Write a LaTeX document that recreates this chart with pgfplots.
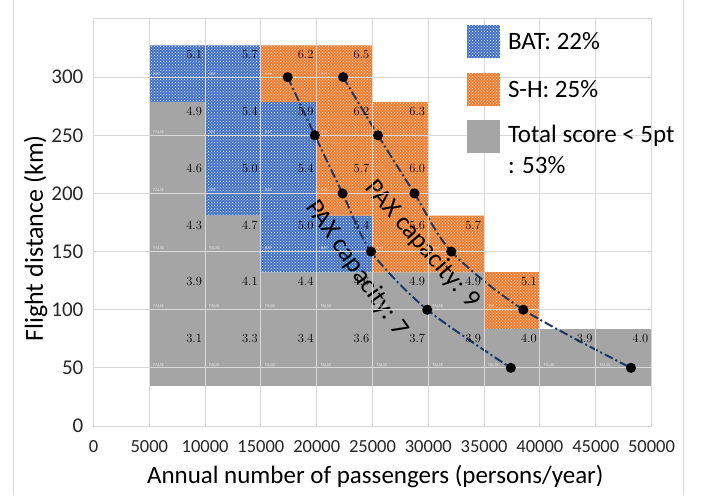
\documentclass[border=0pt]{standalone}
\usepackage{fontspec}
\setsansfont{Carlito}
\renewcommand{\familydefault}{\sfdefault}
\usepackage{pgfplots}
\pgfplotsset{compat=1.18}
\usetikzlibrary{patterns}
\definecolor{cblue}{HTML}{4472C4}
\definecolor{corange}{HTML}{ED7D31}
\definecolor{cgray}{HTML}{A5A5A5}
\definecolor{cgrid}{HTML}{D9D9D9}
\definecolor{cnavy}{HTML}{1F3864}
\definecolor{ctext}{HTML}{262626}
\pgfplotsset{
  squarepatch/.style={legend image code/.code={\path[##1,draw=none] (0pt,-16.5pt) rectangle (33pt,16.5pt);}},
  tallpatch/.style={legend image code/.code={\path[##1,draw=none] (0pt,-3pt) rectangle (33pt,30pt);}},
}

\pgfplotstableread{
x y lab
10000 327.3 5.1
15000 327.3 5.7
20000 327.3 6.2
25000 327.3 6.5
10000 278.5 4.9
15000 278.5 5.4
20000 278.5 5.9
25000 278.5 6.2
30000 278.5 6.3
10000 229.7 4.6
15000 229.7 5.0
20000 229.7 5.4
25000 229.7 5.7
30000 229.7 6.0
10000 180.9 4.3
15000 180.9 4.7
20000 180.9 5.0
25000 180.9 5.4
30000 180.9 5.6
35000 180.9 5.7
10000 132.1 3.9
15000 132.1 4.1
20000 132.1 4.4
25000 132.1 4.6
30000 132.1 4.9
35000 132.1 4.9
40000 132.1 5.1
10000 83.3 3.1
15000 83.3 3.3
20000 83.3 3.4
25000 83.3 3.6
30000 83.3 3.7
35000 83.3 3.9
40000 83.3 4.0
45000 83.3 3.9
50000 83.3 4.0
}\cellvalues

\pgfplotstableread{
x y lab
5000 300 BAT
10000 300 BAT
15000 300 S-H
20000 300 S-H
5000 250 FALSE
10000 250 BAT
15000 250 BAT
20000 250 S-H
25000 250 S-H
5000 200 FALSE
10000 200 BAT
15000 200 BAT
20000 200 S-H
25000 200 S-H
5000 150 FALSE
10000 150 FALSE
15000 150 BAT
20000 150 BAT
25000 150 S-H
30000 150 S-H
5000 100 FALSE
10000 100 FALSE
15000 100 FALSE
20000 100 FALSE
25000 100 FALSE
30000 100 FALSE
35000 100 S-H
5000 50 FALSE
10000 50 FALSE
15000 50 FALSE
20000 50 FALSE
25000 50 FALSE
30000 50 FALSE
35000 50 FALSE
40000 50 FALSE
45000 50 FALSE
}\celltags

\begin{document}
\begin{tikzpicture}
\path[use as bounding box] (-93.5pt,-69pt) rectangle (615.5pt,426pt);
\draw[cgrid, line width=1pt] (-79.5pt,-69pt) -- (-79.5pt,426pt);
\draw[cgrid, line width=1pt] (589.5pt,-69pt) -- (589.5pt,426pt);
\begin{axis}[
  scale only axis,
  width=558pt, height=407pt,
  xmin=0, xmax=50000, ymin=0, ymax=350,
  xtick={0,5000,...,50000},
  ytick={0,50,...,300},
  scaled x ticks=false,
  /pgf/number format/assume math mode=true,
  /pgf/number format/1000 sep={},
  grid=major,
  major grid style={cgrid, line width=1pt},
  axis line style={cgrid, line width=1pt},
  major tick length=0pt,
  axis on top,
  xticklabel style={font=\fontsize{18.5}{20}\selectfont, color=ctext, inner sep=0pt, anchor=north, yshift=-14pt, fill=white},
  yticklabel style={font=\fontsize{21}{24}\selectfont, color=ctext, inner sep=0pt, anchor=east, xshift=-10pt},
  xlabel={Annual number of passengers (persons/year)},
  ylabel={Flight distance (km)},
  every axis x label/.style={at={(rel axis cs:0.505,0)}, anchor=base, yshift=-57pt, font=\fontsize{25}{30}\selectfont, color=black},
  every axis y label/.style={at={(rel axis cs:0,0.461)}, xshift=-58pt, rotate=90, anchor=center, font=\fontsize{26}{30}\selectfont, color=black},
  squarepatch,
  legend cell align=left,
  legend style={at={(rel axis cs:0.669,0.985)}, anchor=north west, draw=none, fill=none,
    font=\fontsize{25}{30.7}\selectfont, row sep=14.5pt, column sep=8pt, inner sep=0pt,
    nodes={inner sep=0pt, align=left}},
]
% BAT region
\addplot[fill=cblue, draw=none, postaction={pattern=crosshatch dots, pattern color=white!85!cblue}]
  coordinates {(5000,327.3) (15000,327.3) (15000,278.5) (20000,278.5) (20000,180.9) (25000,180.9)
  (25000,132.1) (15000,132.1) (15000,180.9) (10000,180.9) (10000,278.5) (5000,278.5)} -- cycle;
\addlegendentry{BAT: 22\%}
% S-H region
\addplot[fill=corange, draw=none, postaction={pattern=crosshatch dots, pattern color=white!80!corange}]
  coordinates {(15000,327.3) (25000,327.3) (25000,278.5) (30000,278.5) (30000,180.9) (35000,180.9)
  (35000,132.1) (25000,132.1) (25000,180.9) (20000,180.9) (20000,278.5) (15000,278.5)} -- cycle;
\addlegendentry{S-H: 25\%}
\addplot[forget plot, fill=corange, draw=none, postaction={pattern=crosshatch dots, pattern color=white!80!corange}]
  coordinates {(35000,83.3) (40000,83.3) (40000,132.1) (35000,132.1)} -- cycle;
% low score region
\addplot[fill=cgray, draw=none, tallpatch]
  coordinates {(5000,34.5) (50000,34.5) (50000,83.3) (35000,83.3) (35000,132.1) (15000,132.1)
  (15000,180.9) (10000,180.9) (10000,278.5) (5000,278.5)} -- cycle;
\addlegendentry{Total score < 5pt\\: 53\%}
% cell values
\addplot[forget plot, only marks, mark=none, point meta=explicit symbolic,
  nodes near coords, nodes near coords style={anchor=base east, inner sep=0pt, xshift=-3pt, yshift=-13.5pt,
  font=\rmfamily\fontsize{12.5}{13}\selectfont\addfontfeature{FakeBold=2}, text=black}]
  table[meta=lab] {\cellvalues};
% tiny tags
\addplot[forget plot, only marks, mark=none, point meta=explicit symbolic,
  nodes near coords, nodes near coords style={anchor=south west, inner sep=0pt, xshift=4pt, yshift=1.5pt,
  font=\fontsize{4.5}{5}\selectfont, color=white, opacity=0.7}]
  table[meta=lab] {\celltags};
% PAX capacity curves
\addplot[forget plot, smooth, color=cnavy, line width=2pt, dash pattern=on 9pt off 3pt on 2pt off 3pt,
  mark=*, mark size=4pt, mark options={solid, fill=black, draw=black}]
  coordinates {(17400,300) (19830,250) (22320,200) (24870,150) (29900,100) (37390,50)};
\addplot[forget plot, smooth, color=cnavy, line width=2pt, dash pattern=on 9pt off 3pt on 2pt off 3pt,
  mark=*, mark size=4pt, mark options={solid, fill=black, draw=black}]
  coordinates {(22370,300) (25490,250) (28760,200) (32060,150) (38510,100) (48160,50)};
\node[rotate=-55, font=\fontsize{26}{30}\selectfont] at (axis cs:23600,135) {PAX capacity: 7};
\node[rotate=-49, font=\fontsize{26}{30}\selectfont] at (axis cs:29450,156) {PAX capacity: 9};
\end{axis}
\end{tikzpicture}
\end{document}
